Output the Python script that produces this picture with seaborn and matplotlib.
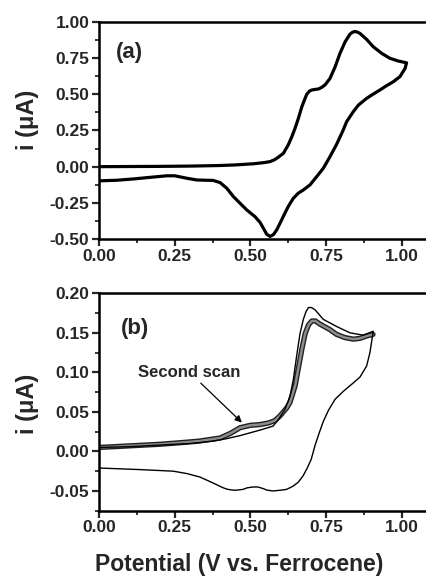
import numpy as np
import pandas as pd
import matplotlib
matplotlib.use("Agg")
import matplotlib.pyplot as plt
import matplotlib.patheffects as pe
from matplotlib.ticker import MultipleLocator, FormatStrFormatter
import seaborn as sns

sns.set_style("white")
plt.rcParams['font.family'] = ['Liberation Sans', 'DejaVu Sans']
plt.rcParams['font.weight'] = 'bold'
plt.rcParams['axes.unicode_minus'] = False

# ---- Panel (a): cyclic voltammogram (forward then reverse) ----
a_potential = [0.00, 0.10, 0.20, 0.30, 0.377, 0.40, 0.45, 0.51, 0.545, 0.565, 0.580, 0.592,
               0.609, 0.625, 0.637, 0.647, 0.658, 0.670, 0.686, 0.695, 0.703, 0.714, 0.725,
               0.737, 0.747, 0.763, 0.780, 0.796, 0.813, 0.829, 0.838, 0.846, 0.854, 0.862,
               0.884, 0.906, 0.934, 0.961, 0.989, 1.016,
               1.011, 0.994, 0.972, 0.950, 0.928, 0.906, 0.884, 0.857, 0.840, 0.818, 0.805,
               0.785, 0.763, 0.741, 0.719, 0.697, 0.675, 0.658, 0.642, 0.625, 0.614, 0.598,
               0.587, 0.576, 0.565, 0.554, 0.543, 0.532, 0.515, 0.488, 0.466, 0.444, 0.422,
               0.400, 0.377, 0.356, 0.323, 0.290, 0.250, 0.224, 0.168, 0.113, 0.058, 0.000]
a_current = [0.000, 0.001, 0.002, 0.004, 0.007, 0.008, 0.012, 0.020, 0.028, 0.035, 0.048, 0.065,
             0.092, 0.150, 0.207, 0.262, 0.330, 0.414, 0.500, 0.522, 0.530, 0.534, 0.537,
             0.550, 0.566, 0.610, 0.690, 0.783, 0.863, 0.916, 0.930, 0.934, 0.930, 0.921,
             0.880, 0.829, 0.783, 0.749, 0.730, 0.718,
             0.679, 0.622, 0.587, 0.560, 0.530, 0.502, 0.472, 0.426, 0.380, 0.311, 0.245,
             0.155, 0.069, -0.011, -0.069, -0.126, -0.161, -0.184, -0.218, -0.276, -0.322, -0.391,
             -0.437, -0.470, -0.482, -0.467, -0.426, -0.385, -0.345, -0.299, -0.253, -0.207, -0.149,
             -0.110, -0.095, -0.094, -0.092, -0.080, -0.063, -0.063, -0.074, -0.085, -0.094, -0.098]

# ---- Panel (b): first scan (thin line) ----
b1_potential = [0.00, 0.10, 0.20, 0.30, 0.377, 0.42, 0.466, 0.532, 0.575, 0.592, 0.614, 0.631,
                0.642, 0.653, 0.664, 0.675, 0.684, 0.692, 0.702, 0.714, 0.741, 0.785, 0.829,
                0.873, 0.906,
                0.901, 0.895, 0.884, 0.862, 0.835, 0.807, 0.780, 0.758, 0.741, 0.728, 0.714,
                0.701, 0.688, 0.674, 0.658, 0.641, 0.620, 0.602, 0.575, 0.555, 0.542, 0.525,
                0.509, 0.490, 0.476, 0.455, 0.443, 0.425, 0.410, 0.377, 0.334, 0.290, 0.245,
                0.135, 0.000]
b1_current = [0.005, 0.006, 0.008, 0.010, 0.013, 0.016, 0.020, 0.027, 0.032, 0.040, 0.053, 0.070,
              0.091, 0.121, 0.149, 0.167, 0.177, 0.182, 0.182, 0.179, 0.167, 0.158, 0.150,
              0.147, 0.152,
              0.140, 0.125, 0.108, 0.094, 0.085, 0.076, 0.066, 0.052, 0.038, 0.024, 0.008,
              -0.010, -0.021, -0.031, -0.039, -0.044, -0.048, -0.049, -0.050, -0.049, -0.047, -0.045,
              -0.045, -0.046, -0.048, -0.049, -0.049, -0.048, -0.046, -0.040, -0.0325, -0.028, -0.025,
              -0.023, -0.021]

# ---- Panel (b): second scan (marker band) ----
b2_potential = [0.00, 0.10, 0.20, 0.268, 0.330, 0.400, 0.435, 0.466, 0.500, 0.532, 0.560, 0.581,
                0.598, 0.609, 0.620, 0.631, 0.648, 0.658, 0.670, 0.681, 0.692, 0.703, 0.715,
                0.730, 0.763, 0.785, 0.812, 0.840, 0.862, 0.884, 0.905]
b2_current = [0.005, 0.007, 0.009, 0.011, 0.013, 0.017, 0.023, 0.030, 0.033, 0.034, 0.036, 0.039,
              0.045, 0.050, 0.055, 0.062, 0.083, 0.104, 0.129, 0.149, 0.160, 0.165, 0.165,
              0.161, 0.154, 0.148, 0.144, 0.142, 0.143, 0.146, 0.148]

x_ticks = [0.00, 0.25, 0.50, 0.75, 1.00]
a_yticks = [-0.50, -0.25, 0.00, 0.25, 0.50, 0.75, 1.00]
b_yticks = [-0.05, 0.00, 0.05, 0.10, 0.15, 0.20]

W, H = 427, 586
fig = plt.figure(figsize=(W / 100, H / 100), dpi=100)
ax1 = fig.add_axes([99 / W, 1 - 239 / H, 333 / W, (239 - 22) / H])
ax2 = fig.add_axes([99 / W, 1 - 510.7 / H, 333 / W, (510.7 - 293.3) / H])

dfa = pd.DataFrame({"E": a_potential, "i": a_current})
sns.lineplot(data=dfa, x="E", y="i", sort=False, estimator=None, ax=ax1,
             color="black", linewidth=2.3)
for l in ax1.lines:
    l.set_solid_joinstyle('round')

df1 = pd.DataFrame({"E": b1_potential, "i": b1_current})
df2 = pd.DataFrame({"E": b2_potential, "i": b2_current})
sns.lineplot(data=df2, x="E", y="i", sort=False, estimator=None, ax=ax2,
             color="#8c8c8c", linewidth=1.8,
             path_effects=[pe.Stroke(linewidth=3.8, foreground="#202020"), pe.Normal()])
sns.lineplot(data=df1, x="E", y="i", sort=False, estimator=None, ax=ax2,
             color="black", linewidth=1.0)
for l in ax2.lines:
    l.set_solid_joinstyle('round')

for ax, yt, ylim, ymin in [(ax1, a_yticks, (-0.5, 1.0), 0.125), (ax2, b_yticks, (-0.075, 0.20), 0.025)]:
    ax.set_xlim(0, 1.1)
    ax.set_ylim(*ylim)
    ax.set_xticks(x_ticks)
    ax.set_yticks(yt)
    ax.xaxis.set_minor_locator(MultipleLocator(0.125))
    ax.yaxis.set_minor_locator(MultipleLocator(ymin))
    ax.xaxis.set_major_formatter(FormatStrFormatter('%.2f'))
    ax.yaxis.set_major_formatter(FormatStrFormatter('%.2f'))
    ax.tick_params(which='major', direction='out', length=5, width=1.6,
                   labelsize=12.5, pad=2, bottom=True, left=True, top=False, right=False)
    ax.tick_params(which='minor', direction='out', length=3, width=1.3,
                   bottom=True, left=True, top=False, right=False)
    for lab in ax.get_xticklabels() + ax.get_yticklabels():
        lab.set_fontweight('bold')
    for s in ax.spines.values():
        s.set_linewidth(1.8)
        s.set_color('black')
    ax.set_xlabel("")
    ax.set_ylabel("")

ax1.text(0.05, 0.86, "(a)", transform=ax1.transAxes, fontsize=16, fontweight='bold', va='center')
ax2.text(0.065, 0.84, "(b)", transform=ax2.transAxes, fontsize=16, fontweight='bold', va='center')

ax2.annotate("Second scan", xy=(0.472, 0.0365), xytext=(0.13, 0.1),
             fontsize=12, fontweight='bold', va='center', ha='left',
             arrowprops=dict(arrowstyle='-|>', color='black', lw=0.9,
                             shrinkA=0, shrinkB=0, mutation_scale=10))

fig.text(28 / W, 1 - 120 / H, "i (μA)", rotation=90, fontsize=17, fontweight='bold',
         ha='center', va='center')
fig.text(28 / W, 1 - 404 / H, "i (μA)", rotation=90, fontsize=17, fontweight='bold',
         ha='center', va='center')
fig.text(239 / W, 1 - 565 / H, "Potential (V vs. Ferrocene)", fontsize=16.5, fontweight='bold',
         ha='center', va='center')

fig.savefig("out.png", dpi=100)
